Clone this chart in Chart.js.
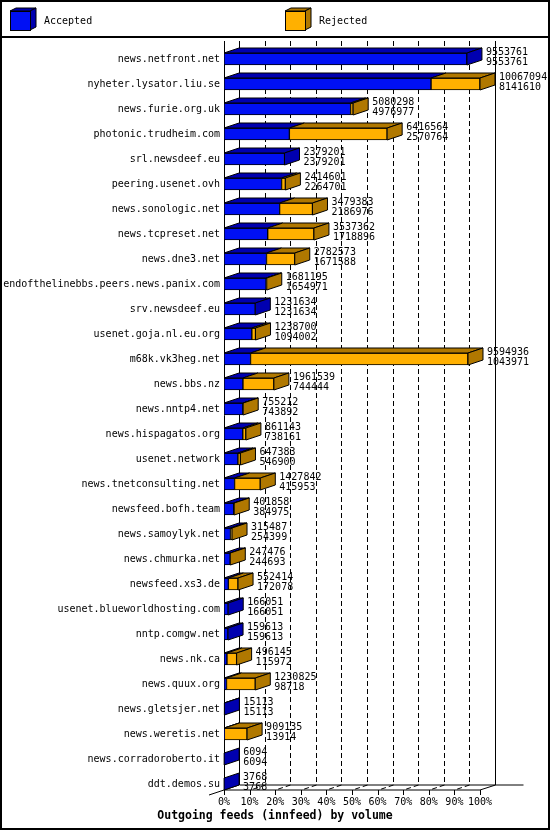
<!DOCTYPE html>
<html>
<head>
<meta charset="utf-8">
<script src="https://cdn.jsdelivr.net/npm/chart.js@4.4.0/dist/chart.umd.min.js"></script>
<style>
  html, body { margin: 0; padding: 0; background: #ffffff; }
  #wrap { width: 550px; height: 830px; position: relative; }
</style>
</head>
<body>
<div id="wrap"><canvas id="c" width="550" height="830"></canvas></div>
<script>
const categories = [
  "news.netfront.net", "nyheter.lysator.liu.se", "news.furie.org.uk", "photonic.trudheim.com",
  "srl.newsdeef.eu", "peering.usenet.ovh", "news.sonologic.net", "news.tcpreset.net",
  "news.dne3.net", "endofthelinebbs.peers.news.panix.com", "srv.newsdeef.eu", "usenet.goja.nl.eu.org",
  "m68k.vk3heg.net", "news.bbs.nz", "news.nntp4.net", "news.hispagatos.org",
  "usenet.network", "news.tnetconsulting.net", "newsfeed.bofh.team", "news.samoylyk.net",
  "news.chmurka.net", "newsfeed.xs3.de", "usenet.blueworldhosting.com", "nntp.comgw.net",
  "news.nk.ca", "news.quux.org", "news.gletsjer.net", "news.weretis.net",
  "news.corradoroberto.it", "ddt.demos.su"
];
const totals = [
  9553761, 10067094, 5080298, 6416564, 2379201, 2414601, 3479383, 3537362,
  2782573, 1681195, 1231634, 1238700, 9594936, 1961539, 755212, 861143,
  647383, 1427842, 401858, 315487, 247476, 552414, 166051, 159613,
  496145, 1230825, 15113, 909135, 6094, 3768
];
const accepted = [
  9553761, 8141610, 4976977, 2570764, 2379201, 2264701, 2186976, 1718896,
  1671588, 1654971, 1231634, 1094002, 1043971, 744444, 743892, 738161,
  546900, 415953, 384975, 254399, 244693, 172078, 166051, 159613,
  115972, 98718, 15113, 13914, 6094, 3768
];
const xTicks = [0, 10, 20, 30, 40, 50, 60, 70, 80, 90, 100];
const seriesNames = ["Accepted", "Rejected"];
const chartTitle = "Outgoing feeds (innfeed) by volume";

const maxTotal = Math.max(...totals);
const rejected = totals.map((t, i) => t - accepted[i]);
const accPct = accepted.map(v => v / maxTotal * 100);
const rejPct = rejected.map(v => v / maxTotal * 100);
const totPct = totals.map(v => v / maxTotal * 100);

const BLUE = '#0010f4', BLUE_D = '#0000b0';
const ORANGE = '#ffb000', ORANGE_D = '#b07800';
const DX = 15, DY = 5, HALF = 6;
const MONO = "'DejaVu Sans Mono', 'Liberation Mono', monospace";

Chart.defaults.font.family = MONO;
Chart.defaults.font.size = 10;
Chart.defaults.color = '#000';

function poly(ctx, pts, fill) {
  ctx.beginPath();
  ctx.moveTo(pts[0][0], pts[0][1]);
  for (let k = 1; k < pts.length; k++) ctx.lineTo(pts[k][0], pts[k][1]);
  ctx.closePath();
  ctx.fillStyle = fill;
  ctx.fill();
  ctx.strokeStyle = '#000';
  ctx.lineWidth = 1;
  ctx.stroke();
}

const deco = {
  id: 'deco',
  beforeDatasetsDraw(chart) {
    const ctx = chart.ctx, xs = chart.scales.x, ys = chart.scales.y;
    const frontY = ys.getPixelForValue(categories.length - 1) + HALF;
    const backY = frontY - DY;
    const x0 = xs.getPixelForValue(0), x100 = xs.getPixelForValue(100);
    const topY = 41;
    ctx.save();
    // frame
    ctx.strokeStyle = '#000';
    ctx.lineWidth = 2;
    ctx.strokeRect(1, 1, 548, 828);
    ctx.beginPath(); ctx.moveTo(0, 37); ctx.lineTo(550, 37); ctx.stroke();
    ctx.lineWidth = 1;
    // dashed grid on back wall + floor
    ctx.setLineDash([5, 3]);
    xTicks.forEach(t => {
      if (t === 0 || t === 100) return;
      const xb = Math.round(xs.getPixelForValue(t) + DX) + 0.5;
      ctx.beginPath();
      ctx.moveTo(xb, topY); ctx.lineTo(xb, backY); ctx.lineTo(xb - DX, frontY);
      ctx.stroke();
    });
    ctx.setLineDash([]);
    const bx0 = Math.round(x0 + DX) + 0.5, bx1 = Math.round(x100 + DX) + 0.5;
    ctx.beginPath();
    ctx.moveTo(bx0, topY); ctx.lineTo(bx0, backY);
    ctx.moveTo(bx1, topY); ctx.lineTo(bx1, backY); ctx.lineTo(x100, frontY);
    ctx.moveTo(bx0, backY); ctx.lineTo(bx1 + 28, backY);
    const fx0 = Math.round(x0) + 0.5;
    ctx.moveTo(fx0, topY); ctx.lineTo(fx0, frontY);
    ctx.moveTo(fx0, frontY); ctx.lineTo(x100, frontY);
    ctx.moveTo(x0 - DX, frontY + DY); ctx.lineTo(x0 + DX, backY);
    xTicks.forEach(t => {
      const xt = Math.round(xs.getPixelForValue(t)) + 0.5;
      ctx.moveTo(xt, frontY); ctx.lineTo(xt, frontY + 5);
    });
    ctx.stroke();
    ctx.restore();
  },
  afterDatasetsDraw(chart) {
    const ctx = chart.ctx, xs = chart.scales.x, ys = chart.scales.y;
    ctx.save();
    categories.forEach((c, i) => {
      const yc = ys.getPixelForValue(i);
      const yt = yc - HALF, yb = yc + HALF;
      const xa0 = xs.getPixelForValue(0);
      const xa1 = xs.getPixelForValue(accPct[i]);
      const xr = xs.getPixelForValue(totPct[i]);
      if (xa1 - xa0 > 0.3) {
        poly(ctx, [[xa0, yt], [xa0 + DX, yt - DY], [xa1 + DX, yt - DY], [xa1, yt]], BLUE_D);
      }
      if (rejected[i] > 0) {
        poly(ctx, [[xa1, yt], [xa1 + DX, yt - DY], [xr + DX, yt - DY], [xr, yt]], ORANGE_D);
      }
      poly(ctx, [[xr, yt], [xr + DX, yt - DY], [xr + DX, yb - DY], [xr, yb]], rejected[i] > 0 ? ORANGE_D : BLUE_D);
      ctx.fillStyle = '#000';
      ctx.font = '10px ' + MONO;
      ctx.textAlign = 'left';
      ctx.textBaseline = 'middle';
      ctx.fillText(String(totals[i]), xr + DX + 4, yc - 7);
      ctx.fillText(String(accepted[i]), xr + DX + 4, yc + 3.5);
    });
    // legend
    const cube = (x, y, front, dark) => {
      poly(ctx, [[x, y], [x + 6, y - 3], [x + 26, y - 3], [x + 20, y]], dark);
      poly(ctx, [[x + 20, y], [x + 26, y - 3], [x + 26, y + 16], [x + 20, y + 19]], dark);
      ctx.fillStyle = front;
      ctx.fillRect(x, y, 20, 19);
      ctx.strokeStyle = '#000';
      ctx.strokeRect(x + 0.5, y + 0.5, 20, 19);
    };
    cube(10, 11, BLUE, BLUE_D);
    cube(285, 11, ORANGE, ORANGE_D);
    ctx.fillStyle = '#000';
    ctx.font = '10px ' + MONO;
    ctx.textAlign = 'left';
    ctx.textBaseline = 'middle';
    ctx.fillText(seriesNames[0], 44, 21);
    ctx.fillText(seriesNames[1], 319, 21);
    // title
    ctx.font = 'bold 11.5px ' + MONO;
    ctx.textAlign = 'center';
    ctx.fillText(chartTitle, 275, 816);
    ctx.restore();
  }
};

new Chart(document.getElementById('c'), {
  type: 'bar',
  data: {
    labels: categories,
    datasets: [
      { label: seriesNames[0], data: accPct, backgroundColor: BLUE, borderColor: '#000', borderWidth: 1, borderSkipped: false, barThickness: 12 },
      { label: seriesNames[1], data: rejPct, backgroundColor: ORANGE, borderColor: '#000', borderWidth: 1, borderSkipped: false, barThickness: 12 }
    ]
  },
  options: {
    indexAxis: 'y',
    responsive: false,
    animation: false,
    devicePixelRatio: 1,
    layout: { padding: { top: 46.5, right: 70, left: 0, bottom: 0 } },
    plugins: { legend: { display: false }, tooltip: { enabled: false }, title: { display: false } },
    scales: {
      x: {
        stacked: true, min: 0, max: 100,
        grid: { display: false, drawTicks: false }, border: { display: false },
        afterBuildTicks: s => { s.ticks = xTicks.map(v => ({ value: v })); },
        ticks: { autoSkip: false, maxRotation: 0, padding: 0, color: '#000', font: { size: 10 }, callback: v => v + '%' },
        afterFit: s => { s.height = 33.5; }
      },
      y: {
        stacked: true,
        grid: { display: false, drawTicks: false }, border: { display: false },
        ticks: { autoSkip: false, padding: 4, color: '#000', font: { size: 10 } },
        afterFit: s => { s.width = 224; }
      }
    }
  },
  plugins: [deco]
});
</script>
</body>
</html>
